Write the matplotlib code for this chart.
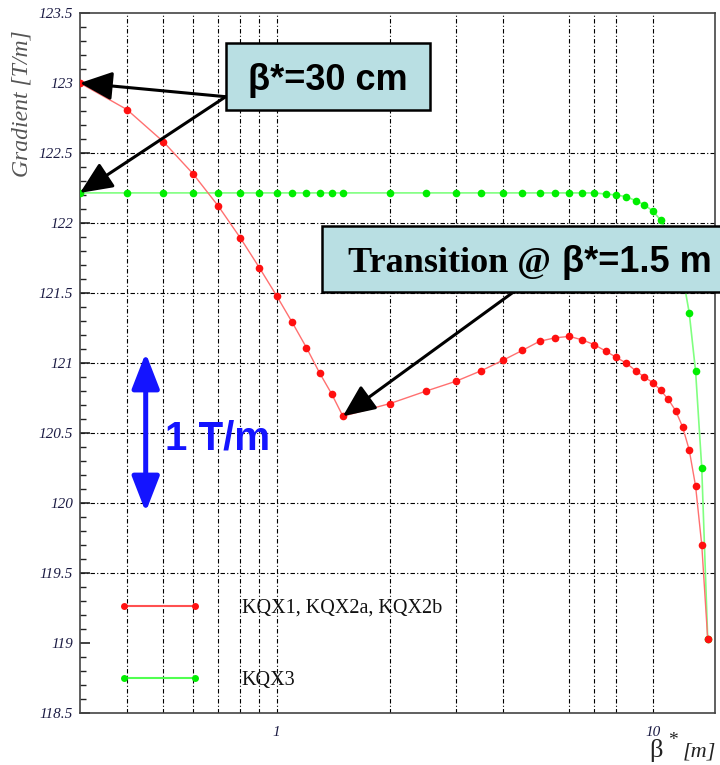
import matplotlib
matplotlib.use("Agg")
import matplotlib.pyplot as plt
from matplotlib.patches import Rectangle
from matplotlib.ticker import FixedLocator, FixedFormatter, MultipleLocator

# ---------------- data ----------------
x_red = [0.3, 0.4, 0.5, 0.6, 0.7, 0.8, 0.9, 1.0, 1.1, 1.2, 1.3, 1.4, 1.5,
         2.0, 2.5, 3.0, 3.5, 4.0, 4.5, 5.0, 5.5, 6.0, 6.5, 7.0, 7.5, 8.0,
         8.5, 9.0, 9.5, 10.0, 10.5, 11.0, 11.5, 12.0, 12.5, 13.0, 13.5, 14.0]
y_red = [123.00, 122.81, 122.58, 122.35, 122.12, 121.895, 121.68, 121.48,
         121.29, 121.11, 120.93, 120.78, 120.62,
         120.71, 120.80, 120.87, 120.945, 121.02, 121.09, 121.155, 121.18,
         121.19, 121.165, 121.13, 121.085, 121.04, 121.00, 120.945, 120.90,
         120.86, 120.805, 120.74, 120.66, 120.545, 120.38, 120.12, 119.70, 119.03]

x_green = [0.3, 0.4, 0.5, 0.6, 0.7, 0.8, 0.9, 1.0, 1.1, 1.2, 1.3, 1.4, 1.5,
           2.0, 2.5, 3.0, 3.5, 4.0, 4.5, 5.0, 5.5, 6.0, 6.5, 7.0, 7.5, 8.0,
           8.5, 9.0, 9.5, 10.0, 10.5, 11.0, 11.5, 12.0, 12.5, 13.0, 13.5, 14.0]
y_green = [122.215] * 23 + [122.215, 122.207, 122.20, 122.188, 122.16, 122.13,
                            122.086, 122.02, 121.93, 121.81, 121.63, 121.36,
                            120.94, 120.25, 119.03]

label_red = "KQX1, KQX2a, KQX2b"
label_green = "KQX3"

y_ticks = [118.5, 119, 119.5, 120, 120.5, 121, 121.5, 122, 122.5, 123, 123.5]
y_ticklabels = ["118.5", "119", "119.5", "120", "120.5", "121", "121.5",
                "122", "122.5", "123", "123.5"]
x_ticks = [1, 10]
x_ticklabels = ["1", "10"]
grid_x = [0.4, 0.5, 0.6, 0.7, 0.8, 0.9, 1, 2, 3, 4, 6, 7, 8, 10]
grid_y = [119.5, 120, 120.5, 121, 121.5, 122, 122.5]

# ---------------- figure ----------------
fig = plt.figure(figsize=(7.2, 7.65), dpi=100)
ax = fig.add_axes([80 / 720, 52 / 765, 635 / 720, 700 / 765])

ax.set_xscale("log")
ax.set_xlim(0.3, 14.64)
ax.set_ylim(118.5, 123.5)

gstyle = dict(color="black", lw=0.8, ls=(0, (4, 2, 1, 2)), zorder=1)
for gx in grid_x:
    ax.axvline(gx, **gstyle)
for gy in grid_y:
    ax.axhline(gy, **gstyle)

ax.plot(x_green, y_green, color="#80ff80", lw=1.2, zorder=3)
ax.plot(x_green, y_green, ls="none", marker="o", ms=5.5, color="#00ee00",
        mec="none", zorder=4)
ax.plot(x_red, y_red, color="#ff7070", lw=1.0, zorder=5)
ax.plot(x_red, y_red, ls="none", marker="o", ms=5.5, color="#ff1010",
        mec="none", zorder=6)

# legend proxies
h_red, = ax.plot([], [], color="#ff5050", lw=1.5, marker="o", ms=5,
                 mfc="#ff1010", mec="none")
h_green, = ax.plot([], [], color="#50ff50", lw=1.5, marker="o", ms=5,
                   mfc="#00ee00", mec="none")
leg = ax.legend([h_red, h_green], [label_red, label_green], loc="upper left",
                bbox_to_anchor=(0.0598, 0.163), frameon=False, numpoints=2,
                borderpad=0, borderaxespad=0, handlelength=4.1,
                handletextpad=2.05, labelspacing=2.65,
                prop=dict(family="Liberation Serif", size=14.5))
for t in leg.get_texts():
    t.set_color("#111111")

# ticks
ax.xaxis.set_major_locator(FixedLocator(x_ticks))
ax.xaxis.set_major_formatter(FixedFormatter(x_ticklabels))
ax.xaxis.set_minor_locator(FixedLocator([]))
ax.yaxis.set_major_locator(FixedLocator(y_ticks))
ax.yaxis.set_major_formatter(FixedFormatter(y_ticklabels))
ax.yaxis.set_minor_locator(MultipleLocator(0.1))
ax.tick_params(axis="x", which="both", length=0, pad=9)
ax.tick_params(axis="y", which="major", length=7, width=1.2, direction="in",
               pad=5, colors="#222222")
ax.tick_params(axis="y", which="minor", length=4.5, width=1.0, direction="in",
               colors="#222222")
for lab in ax.get_xticklabels() + ax.get_yticklabels():
    lab.set_fontfamily("Liberation Serif")
    lab.set_fontstyle("italic")
    lab.set_fontsize(11)
    lab.set_color("#1c1c44")
for sp in ax.spines.values():
    sp.set_color("#444444")
    sp.set_linewidth(1.2)

# axis titles
fig.text(22 / 720, (765 - 30) / 765, "Gradient [T/m]", rotation=90,
         ha="center", va="top", family="Liberation Serif", style="italic",
         size=17, color="#555555")
fig.text(649 / 720, 8 / 765, "β", family="Liberation Serif", size=19,
         ha="left", va="baseline", color="#222222")
fig.text(668 / 720, 20 / 765, "*", family="Liberation Serif", size=14,
         ha="left", va="baseline", color="#222222")
fig.text(683 / 720, 9 / 765, "[m]", family="Liberation Serif", size=16,
         style="italic", ha="left", va="baseline", color="#222222")

# ---------------- annotations ----------------
box_color = "#b9dfe3"
fig.patches.append(Rectangle((225.7 / 720, (765 - 110) / 765), 204.3 / 720,
                             66.7 / 765, transform=fig.transFigure,
                             facecolor=box_color, edgecolor="black", lw=1.8,
                             zorder=10))
fig.text(328 / 720, (765 - 90) / 765, "β*=30 cm", ha="center", va="baseline",
         family="Liberation Sans", weight="bold", size=26, zorder=11)

arrow_kw = dict(arrowstyle="-|>,head_length=0.9,head_width=0.4", color="black",
                lw=2.2, mutation_scale=22, shrinkA=0, shrinkB=0)
ax.annotate("", xy=(x_red[0], y_red[0]), xycoords="data",
            xytext=(225.7 / 720, (765 - 96.7) / 765),
            textcoords="figure fraction", arrowprops=arrow_kw, zorder=9,
            annotation_clip=False)
ax.annotate("", xy=(x_green[0], y_green[0]), xycoords="data",
            xytext=(225.7 / 720, (765 - 96.7) / 765),
            textcoords="figure fraction", arrowprops=arrow_kw, zorder=9,
            annotation_clip=False)

fig.patches.append(Rectangle((322 / 720, (765 - 292) / 765), 410 / 720,
                             66 / 765, transform=fig.transFigure,
                             facecolor=box_color, edgecolor="black", lw=1.8,
                             zorder=10))
fig.text(348 / 720, (765 - 272) / 765, "Transition @", ha="left",
         va="baseline", family="Liberation Serif", weight="bold", size=26,
         zorder=11)
fig.text(562 / 720, (765 - 272) / 765, "β*=1.5 m", ha="left", va="baseline",
         family="Liberation Sans", weight="bold", size=26, zorder=11)
ax.annotate("", xy=(x_red[12], y_red[12]), xycoords="data",
            xytext=(513.5 / 720, (765 - 292) / 765),
            textcoords="figure fraction", arrowprops=arrow_kw, zorder=9,
            annotation_clip=False)

# 1 T/m scale arrow
ax.annotate("", xy=(145.7 / 720, (765 - 512) / 765),
            xytext=(145.7 / 720, (765 - 353) / 765),
            xycoords="figure fraction", textcoords="figure fraction",
            arrowprops=dict(arrowstyle="<|-|>,head_length=0.9,head_width=0.35",
                            color="#1414ff", lw=3.6, mutation_scale=24,
                            shrinkA=0, shrinkB=0), zorder=9)
fig.text(217.5 / 720, (765 - 449) / 765, "1 T/m", ha="center", va="baseline",
         family="Liberation Sans", weight="bold", size=29, color="#1414ff",
         zorder=11)

fig.savefig("out.png", dpi=100)
